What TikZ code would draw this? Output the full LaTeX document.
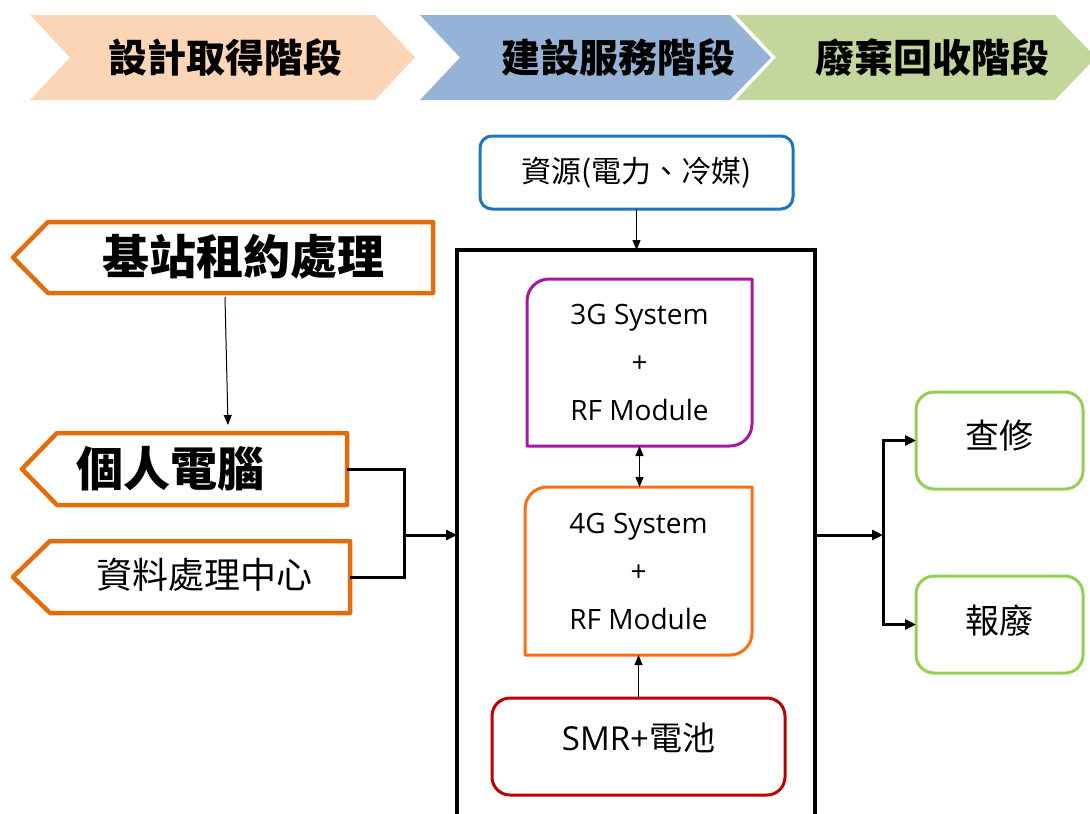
\documentclass[tikz,border=0pt]{standalone}
\usepackage{fontspec}
\setmainfont{Open Sans}
\newfontfamily\cjk{Noto Sans CJK TC}
\usetikzlibrary{arrows.meta}
\definecolor{peach}{HTML}{FBD5B5}
\definecolor{chblue}{HTML}{95B3D7}
\definecolor{chgreen}{HTML}{C3D69B}
\definecolor{lorange}{HTML}{E46C0A}
\definecolor{resblue}{HTML}{1B75C0}
\definecolor{gpurple}{HTML}{A6199C}
\definecolor{gorange}{HTML}{FF6F0F}
\definecolor{smrred}{HTML}{C00000}
\definecolor{boxgreen}{HTML}{92D050}
\begin{document}
\begin{tikzpicture}[x=1pt,y=-1pt,
  body/.style={draw=none,inner sep=0pt,outer sep=0pt},
  obord/.style={draw=lorange,line width=4.5pt,line join=round},
  rbox/.style={draw,line width=3pt,inner sep=0pt,outer sep=0pt,rounded corners=14pt},
  chtext/.style={font=\cjk\bfseries\fontsize{39}{44}\selectfont},
  gtext/.style={align=center,font=\fontsize{28}{48}\selectfont},
  thinarrow/.style={line width=1pt,-{Triangle[length=10pt,width=8pt]}},
  thinboth/.style={line width=1pt,{Triangle[length=10pt,width=8pt]}-{Triangle[length=10pt,width=8pt]}},
  thickline/.style={line width=3pt},
  thickarrow/.style={line width=3pt,-{Triangle[length=11pt,width=10pt]}}]
\useasboundingbox (0,0) rectangle (1090,814);
% phase chevrons
\fill[peach] (30,15) -- (375,15) -- (415,57.5) -- (375,100) -- (30,100) -- (70,57.5) -- cycle;
\fill[chgreen] (736,15) -- (1055,15) -- (1096,57.5) -- (1055,100) -- (736,100) -- (776,57.5) -- cycle;
\fill[chblue] (420,15) -- (730,15) -- (771,57.5) -- (730,100) -- (420,100) -- (460,57.5) -- cycle;
\node[chtext] (ph1) at (225,57) {設計取得階段};
\node[chtext] (ph2) at (618,57) {建設服務階段};
\node[chtext] (ph3) at (932,57) {廢棄回收階段};
% left pentagons
\node[body,minimum width=385pt,minimum height=71pt] (rent) at (240.5,257.5) {};
\draw[obord] (rent.north east) -- (rent.north west) -- ([xshift=-35pt]rent.west) -- (rent.south west) -- (rent.south east) -- cycle;
\node[font=\cjk\bfseries\fontsize{47}{52}\selectfont] (rentt) at (243,257) {基站租約處理};
\node[body,minimum width=290pt,minimum height=72pt] (pc) at (202,469) {};
\draw[obord] (pc.north east) -- (pc.north west) -- ([xshift=-35pt]pc.west) -- (pc.south west) -- (pc.south east) -- cycle;
\node[font=\cjk\bfseries\fontsize{47}{52}\selectfont] (pct) at (170,469) {個人電腦};
\node[body,minimum width=300pt,minimum height=72pt] (dc) at (200,577) {};
\draw[obord] (dc.north east) -- (dc.north west) -- ([xshift=-37pt]dc.west) -- (dc.south west) -- (dc.south east) -- cycle;
\node[font=\cjk\fontsize{36}{40}\selectfont] (dct) at (204,575) {資料處理中心};
% system box
\node[draw,line width=3.5pt,inner sep=0pt,outer sep=0pt,minimum width=358pt,minimum height=600pt] (sys) at (636,550) {};
\node[rbox,draw=resblue,rounded corners=12pt,minimum width=313pt,minimum height=73pt,font=\cjk\fontsize{30}{34}\selectfont] (res) at (636.5,172.5) {資源(電力、冷媒)};
% 3G / 4G
\node[body,minimum width=225pt,minimum height=167pt,gtext] (g3) at (639.5,362.5) {3G System\\+\\RF Module};
\draw[draw=gpurple,line width=3pt,line join=round] (g3.north east) -- ([yshift=22pt]g3.south east)
  .. controls ([yshift=9.86pt]g3.south east) and ([xshift=-9.86pt]g3.south east) .. ([xshift=-22pt]g3.south east)
  -- (g3.south west) -- ([yshift=-22pt]g3.north west)
  .. controls ([yshift=-9.86pt]g3.north west) and ([xshift=9.86pt]g3.north west) .. ([xshift=22pt]g3.north west) -- cycle;
\node[body,minimum width=227pt,minimum height=168pt,gtext] (g4) at (638.5,571) {4G System\\+\\RF Module};
\draw[draw=gorange,line width=3pt,line join=round] (g4.north east) -- ([yshift=22pt]g4.south east)
  .. controls ([yshift=9.86pt]g4.south east) and ([xshift=-9.86pt]g4.south east) .. ([xshift=-22pt]g4.south east)
  -- (g4.south west) -- ([yshift=-22pt]g4.north west)
  .. controls ([yshift=-9.86pt]g4.north west) and ([xshift=9.86pt]g4.north west) .. ([xshift=22pt]g4.north west) -- cycle;
\node[rbox,draw=smrred,rounded corners=18pt,minimum width=293pt,minimum height=97pt,
  label={[font=\fontsize{33}{36}\selectfont,yshift=9pt]center:SMR+{\cjk 電池}}] (smr) at (638.5,746.5) {};
% right boxes
\node[rbox,draw=boxgreen,rounded corners=18pt,minimum width=167pt,minimum height=97pt,
  label={[font=\cjk\fontsize{34}{38}\selectfont,yshift=5pt]center:查修}] (fix) at (999.5,440.5) {};
\node[rbox,draw=boxgreen,rounded corners=18pt,minimum width=167pt,minimum height=97pt,
  label={[font=\cjk\fontsize{34}{38}\selectfont,yshift=4pt]center:報廢}] (scrap) at (999.5,624.5) {};
% connectors
\draw[thinarrow] ([xshift=-15.5pt,yshift=-4pt]rent.south) -- ([xshift=26pt,yshift=8pt]pc.north);
\coordinate (j1) at (404,535);
\draw[thickline] (pc.east) -| (j1);
\draw[thickline] (dc.east) -| (j1);
\draw[thickarrow] (j1) -- (sys.west |- j1);
\draw[thinarrow] (res.south) -- (res.south |- sys.north);
\draw[thinboth] (g3.south) -- (g3.south |- g4.north);
\draw[thinarrow] (smr.north) -- (smr.north |- g4.south);
\coordinate (j2) at (883,535);
\draw[thickarrow] (sys.east |- j2) -- (j2);
\draw[thickarrow] (j2) |- (fix.west);
\draw[thickarrow] (j2) |- (scrap.west);
\end{tikzpicture}
\end{document}
